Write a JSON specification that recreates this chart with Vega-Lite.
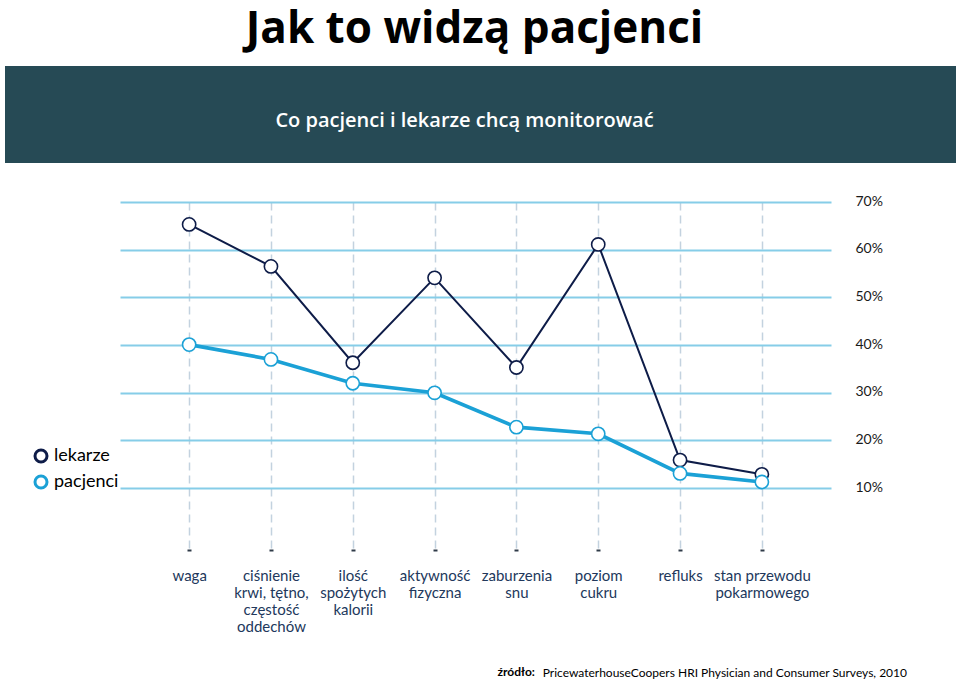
{
  "$schema": "https://vega.github.io/schema/vega-lite/v6.json",
  "background": "white",
  "padding": {"left": 5, "top": 8, "right": 0, "bottom": 0},
  "title": {
    "text": "Jak to widzą pacjenci",
    "font": "Open Sans",
    "fontSize": 44,
    "fontWeight": "bold",
    "color": "#000000",
    "anchor": "middle",
    "dx": -6,
    "offset": 14
  },
  "concat": [
    {
      "width": 951,
      "height": 97,
      "view": {"fill": "#264A55", "stroke": null},
      "data": {"values": [{"t": "Co pacjenci i lekarze chcą monitorować"}]},
      "mark": {"type": "text", "color": "#FFFFFF", "font": "Open Sans", "fontSize": 20, "fontWeight": 600, "baseline": "middle", "dx": -16, "dy": 6},
      "encoding": {"text": {"field": "t", "type": "nominal"}}
    },
    {
      "hconcat": [
        {
          "width": 115,
          "height": 347,
          "data": {"values": []},
          "mark": {"type": "point", "shape": "circle", "filled": false, "opacity": 1},
          "encoding": {
            "stroke": {
              "field": "grupa",
              "type": "nominal",
              "scale": {"domain": ["lekarze", "pacjenci"], "range": ["#0E1C48", "#1BA1D6"]},
              "legend": {
                "orient": "none",
                "legendX": 27,
                "legendY": 245,
                "title": null,
                "symbolType": "circle",
                "symbolSize": 144,
                "symbolStrokeWidth": 3,
                "symbolFillColor": "#FFFFFF",
                "symbolOpacity": 1,
                "labelFont": "Lato",
                "labelFontSize": 18,
                "labelColor": "#000000",
                "labelOffset": 4,
                "rowPadding": 2
              }
            }
          }
        },
        {
          "width": 711,
          "height": 347,
          "title": {
            "text": "PricewaterhouseCoopers HRI Physician and Consumer Surveys, 2010",
            "orient": "bottom",
            "anchor": "end",
            "frame": "group",
            "font": "Lato",
            "fontSize": 12,
            "fontWeight": "normal",
            "color": "#000000",
            "dx": 76,
            "offset": -9
          },
          "data": {
            "values": [
              {"kategoria": "waga", "grupa": "lekarze", "wartosc": 0.653},
              {"kategoria": "ciśnienie|krwi, tętno,|częstość|oddechów", "grupa": "lekarze", "wartosc": 0.565},
              {"kategoria": "ilość|spożytych|kalorii", "grupa": "lekarze", "wartosc": 0.363},
              {"kategoria": "aktywność|fizyczna", "grupa": "lekarze", "wartosc": 0.541},
              {"kategoria": "zaburzenia|snu", "grupa": "lekarze", "wartosc": 0.353},
              {"kategoria": "poziom|cukru", "grupa": "lekarze", "wartosc": 0.611},
              {"kategoria": "refluks", "grupa": "lekarze", "wartosc": 0.159},
              {"kategoria": "stan przewodu|pokarmowego", "grupa": "lekarze", "wartosc": 0.129},
              {"kategoria": "waga", "grupa": "pacjenci", "wartosc": 0.401},
              {"kategoria": "ciśnienie|krwi, tętno,|częstość|oddechów", "grupa": "pacjenci", "wartosc": 0.370},
              {"kategoria": "ilość|spożytych|kalorii", "grupa": "pacjenci", "wartosc": 0.320},
              {"kategoria": "aktywność|fizyczna", "grupa": "pacjenci", "wartosc": 0.300},
              {"kategoria": "zaburzenia|snu", "grupa": "pacjenci", "wartosc": 0.228},
              {"kategoria": "poziom|cukru", "grupa": "pacjenci", "wartosc": 0.214},
              {"kategoria": "refluks", "grupa": "pacjenci", "wartosc": 0.131},
              {"kategoria": "stan przewodu|pokarmowego", "grupa": "pacjenci", "wartosc": 0.113}
            ]
          },
          "encoding": {
            "x": {
              "field": "kategoria",
              "type": "ordinal",
              "sort": null,
              "scale": {"type": "point", "padding": 0.845},
              "axis": {
                "title": "źródło:",
                "titleFont": "Lato",
                "titleFontSize": 12,
                "titleFontWeight": "bold",
                "titleColor": "#000000",
                "titleAlign": "left",
                "titleAnchor": null,
                "titleBaseline": "middle",
                "titleX": 377,
                "titleY": 122,
                "labelExpr": "split(datum.label, '|')",
                "labelAngle": 0,
                "labelFont": "Lato",
                "labelFontSize": 15,
                "labelColor": "#22385C",
                "labelLineHeight": 17,
                "labelBaseline": "middle",
                "labelPadding": 24,
                "labelOverlap": false,
                "labelBound": false,
                "domain": false,
                "ticks": true,
                "tickSize": 2,
                "tickWidth": 4,
                "tickColor": "#2F3B48",
                "grid": true,
                "gridColor": "#C3D2DF",
                "gridWidth": 1.5,
                "gridDash": [8, 5]
              }
            },
            "y": {
              "field": "wartosc",
              "type": "quantitative",
              "scale": {"domain": [-0.0275, 0.7], "nice": false, "zero": false},
              "axis": {
                "orient": "right",
                "title": null,
                "values": [0.1, 0.2, 0.3, 0.4, 0.5, 0.6, 0.7],
                "format": ".0%",
                "labelFont": "Lato",
                "labelFontSize": 14,
                "labelColor": "#1A1A1A",
                "labelPadding": 24,
                "labelOffset": -1,
                "domain": false,
                "ticks": false,
                "tickSize": 0,
                "grid": true,
                "gridColor": "#86CDE8",
                "gridWidth": 2
              }
            }
          },
          "layer": [
            {
              "mark": {"type": "line", "interpolate": "linear"},
              "encoding": {
                "color": {
                  "field": "grupa",
                  "type": "nominal",
                  "scale": {"domain": ["lekarze", "pacjenci"], "range": ["#0E1C48", "#1BA1D6"]},
                  "legend": null
                },
                "strokeWidth": {
                  "field": "grupa",
                  "type": "nominal",
                  "scale": {"domain": ["lekarze", "pacjenci"], "range": [2, 3.6]},
                  "legend": null
                }
              }
            },
            {
              "mark": {"type": "point", "shape": "circle", "filled": false, "fill": "#FFFFFF", "fillOpacity": 1, "opacity": 1, "size": 175, "strokeWidth": 1.6},
              "encoding": {
                "stroke": {
                  "field": "grupa",
                  "type": "nominal",
                  "scale": {"domain": ["lekarze", "pacjenci"], "range": ["#0E1C48", "#1BA1D6"]},
                  "legend": null
                }
              }
            }
          ]
        }
      ],
      "spacing": 0,
      "resolve": {
        "scale": {"stroke": "independent", "color": "independent", "strokeWidth": "independent"},
        "legend": {"stroke": "independent", "color": "independent", "strokeWidth": "independent"}
      }
    }
  ],
  "columns": 1,
  "spacing": 31,
  "config": {
    "view": {"stroke": null},
    "font": "Lato"
  }
}
